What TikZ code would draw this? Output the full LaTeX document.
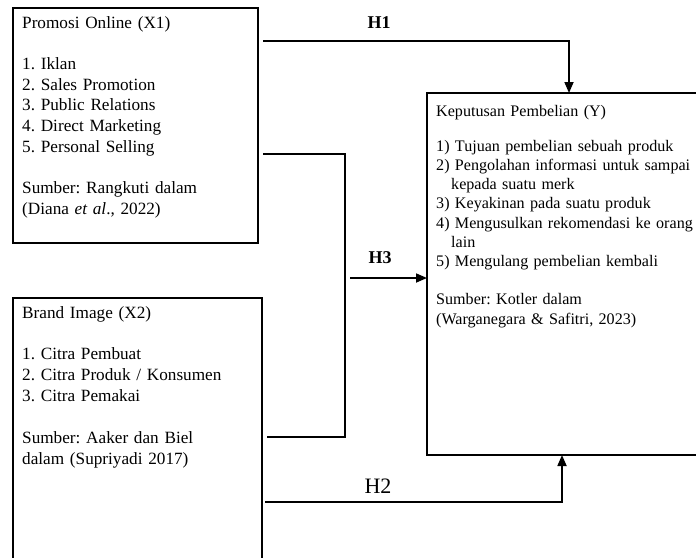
\documentclass[tikz,border=0pt]{standalone}
\usepackage{fontspec}
\setmainfont{Liberation Serif}
\usetikzlibrary{arrows.meta,calc}
\frenchspacing
\begin{document}
\begin{tikzpicture}[x=1pt,y=-1pt,
  box/.style={draw, line width=2.8pt, inner sep=0pt, outer sep=0pt, anchor=north west},
  txt/.style={anchor=base west, inner sep=0pt, align=left},
  conn/.style={line width=1.7pt},
  bracket/.style={line width=1.4pt},
  arr/.style={conn, -{Triangle[length=11pt,width=9pt]}},
  hlab/.style={anchor=base, inner sep=0pt}]
\useasboundingbox (0,0) rectangle (696,557);
\clip (0,0) rectangle (696,557);
% boxes
\node[box, minimum width=245pt, minimum height=235pt] (x1) at (13,8) {};
\node[box, minimum width=249pt, minimum height=290pt] (x2) at (13,298) {};
\node[box, minimum width=300pt, minimum height=362pt] (y1) at (427,93) {};
% box texts
\node[txt, text width=232pt, font=\frenchspacing\fontsize{17.2}{20.7}\selectfont] (x1t) at (22,28)
 {Promosi Online (X1)\\[20.7pt]
  1. Iklan\\
  2. Sales Promotion\\
  3. Public Relations\\
  4. Direct Marketing\\
  5. Personal Selling\\[20.7pt]
  Sumber: Rangkuti dalam\\
  (Diana \textit{et al}., 2022)};
\node[txt, text width=235pt, font=\frenchspacing\fontsize{17.2}{20.9}\selectfont] (x2t) at (22,318)
 {Brand Image (X2)\\[20.9pt]
  1. Citra Pembuat\\
  2. Citra Produk / Konsumen\\
  3. Citra Pemakai\\[20.9pt]
  Sumber: Aaker dan Biel\\
  dalam (Supriyadi 2017)};
\node[txt, text width=262pt, font=\frenchspacing\fontsize{16.1}{19.2}\selectfont] (y1t) at (436,116)
 {Keputusan Pembelian (Y)\\[16pt]
  1) Tujuan pembelian sebuah produk\\
  2) Pengolahan informasi untuk sampai\\
  \hspace*{15pt}kepada suatu merk\\
  3) Keyakinan pada suatu produk\\
  4) Mengusulkan rekomendasi ke orang\\
  \hspace*{15pt}lain\\
  5) Mengulang pembelian kembali\\[19.2pt]
  Sumber: Kotler dalam\\
  (Warganegara \& Safitri, 2023)};
% connectors
\coordinate (h1s) at ($(x1.north east)+(5,33)$);
\draw[arr] (h1s) -| ($(y1.north west)+(142,0)$);
\coordinate (b1) at ($(x1.north east)+(5,146)$);
\coordinate (b2) at ($(x2.north east)+(5,139)$);
\draw[bracket] (b1) -- ++(82,0) |- (b2);
\coordinate (h3s) at (350,278);
\draw[arr] (h3s) -- (h3s -| y1.west);
\coordinate (h2s) at ($(x2.north east)+(3,204)$);
\draw[arr] (h2s) -| ($(y1.south west)+(135,0)$);
% labels
\node[hlab, font=\bfseries\fontsize{18}{20}\selectfont] (h1) at (379,28) {H1};
\node[hlab, font=\bfseries\fontsize{18}{20}\selectfont] (h3) at (380,263) {H3};
\node[hlab, font=\fontsize{22}{24}\selectfont] (h2) at (378,493) {H2};
\end{tikzpicture}
\end{document}
